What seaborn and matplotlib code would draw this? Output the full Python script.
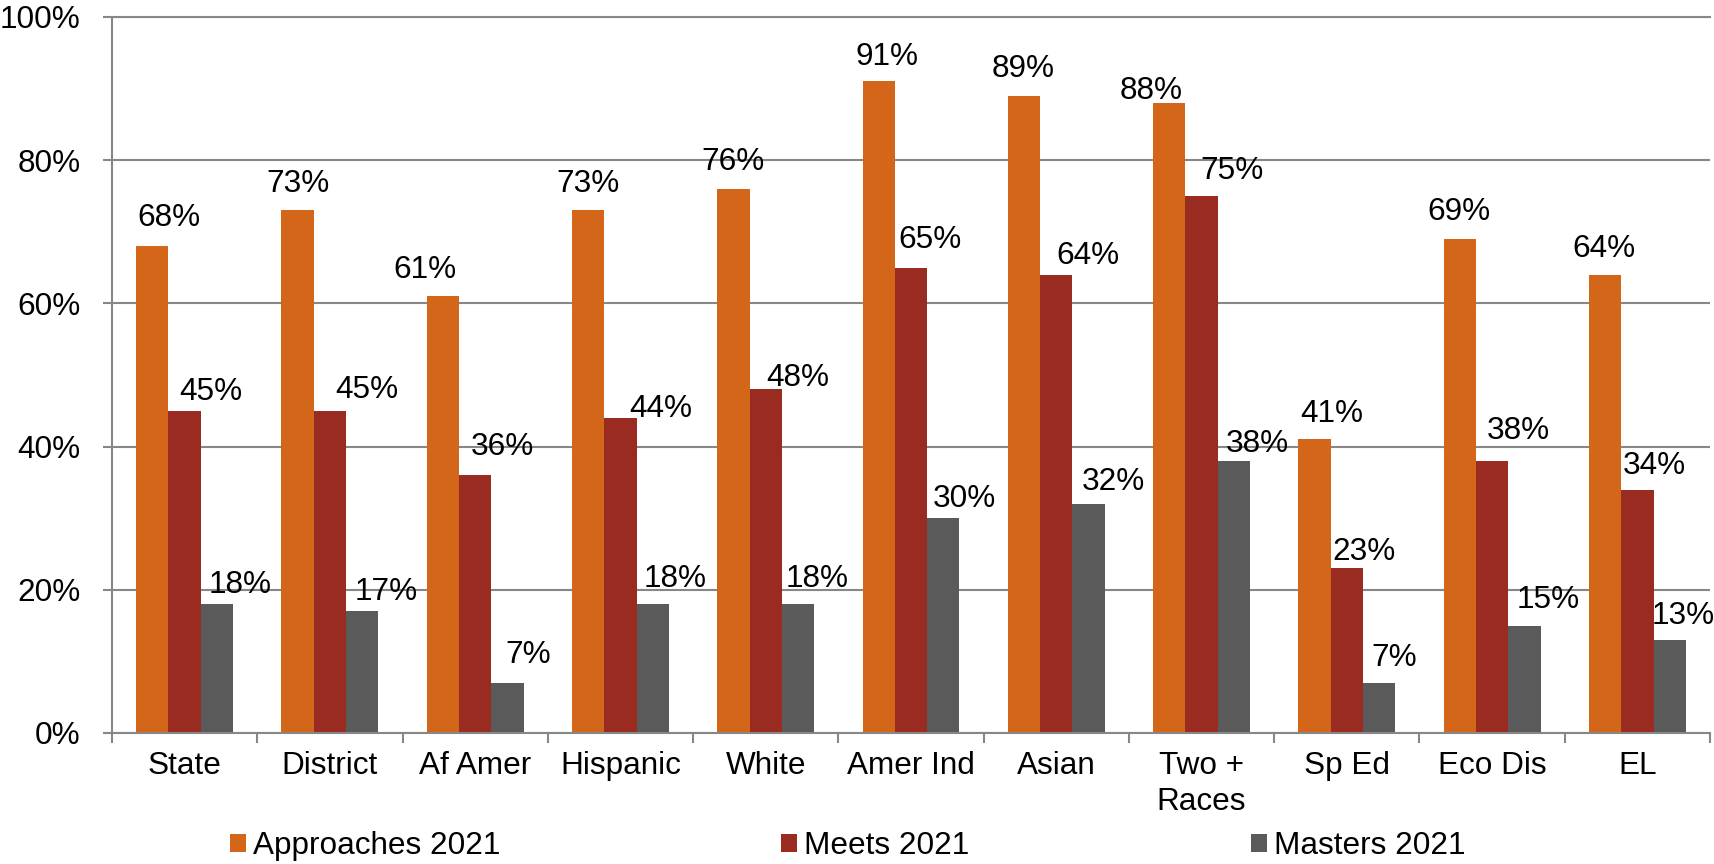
import matplotlib
matplotlib.use("Agg")
import matplotlib.pyplot as plt
import seaborn as sns
import pandas as pd
from matplotlib.patches import Patch
from matplotlib.ticker import FixedLocator, FuncFormatter

# ---------------- data ----------------
categories = ["State", "District", "Af Amer", "Hispanic", "White", "Amer Ind",
              "Asian", "Two +\nRaces", "Sp Ed", "Eco Dis", "EL"]
series = ["Approaches 2021", "Meets 2021", "Masters 2021"]
approaches = [68, 73, 61, 73, 76, 91, 89, 88, 41, 69, 64]
meets = [45, 45, 36, 44, 48, 65, 64, 75, 23, 38, 34]
masters = [18, 17, 7, 18, 18, 30, 32, 38, 7, 15, 13]
y_ticks = [0, 20, 40, 60, 80, 100]

# ---------------- style ----------------
colors = ["#D4661A", "#9A2B20", "#5A5A5A"]
grid_color = "#878787"
# per-label horizontal offsets and gap above bar top (pixels)
label_dx = [
    [17, 0, -18, 0, 0, 8, -1, -18, 17, -1, -1],
    [26, 37, 27, 40, 32, 19, 32, 30, 17, 26, 17],
    [23, 24, 21, 22, 19, 21, 25, 23, 15, 24, 14],
]
label_gap = [
    [20, 18, 18, 18, 19, 16, 19, 4, 17, 19, 18],
    [11, 13, 20, 1, 3, 20, 11, 17, 8, 22, 16],
    [11, 11, 20, 17, 17, 11, 14, 9, 17, 18, 16],
]

plt.rcParams["font.family"] = ["Liberation Sans", "DejaVu Sans"]
FS = 22.7
PX = 0.72  # points per pixel at dpi 100
EM = FS / PX  # font size in pixels

values = [approaches, meets, masters]
rows = []
for s, vals in zip(series, values):
    for c, v in zip(categories, vals):
        rows.append({"cat": c, "val": v, "series": s})
df = pd.DataFrame(rows)

fig = plt.figure(figsize=(17.15, 8.64), dpi=100)
ax = fig.add_axes([112 / 1715, 1 - 733 / 864, (1710 - 112) / 1715, (733 - 17) / 864])

sns.barplot(data=df, x="cat", y="val", hue="series", order=categories,
            hue_order=series, palette=colors, width=0.667, gap=0,
            errorbar=None, legend=False, linewidth=0, saturation=1, ax=ax)

# data labels
for si, cont in enumerate(ax.containers):
    for j, bar in enumerate(cont):
        h = bar.get_height()
        cx = bar.get_x() + bar.get_width() / 2
        ax.annotate(f"{int(round(h))}%", xy=(cx, h),
                    xytext=(label_dx[si][j] * PX, label_gap[si][j] * PX),
                    textcoords="offset points", ha="center", va="baseline",
                    fontsize=FS, color="black", annotation_clip=False)

ax.set_ylim(0, 100)
ax.set_xlim(-0.5, len(categories) - 0.5)
ax.yaxis.set_major_locator(FixedLocator(y_ticks))
ax.yaxis.set_major_formatter(FuncFormatter(lambda v, p: f"{int(v)}%"))
ax.yaxis.grid(True, color=grid_color, linewidth=1.5)
ax.set_axisbelow(True)
ax.set_xlabel("")
ax.set_ylabel("")

for side in ["left", "bottom", "top"]:
    ax.spines[side].set_color(grid_color)
    ax.spines[side].set_linewidth(1.5)
ax.spines["right"].set_visible(False)

ax.tick_params(axis="y", length=6.5, width=1.5, color=grid_color, pad=16,
               labelsize=FS, labelcolor="black")
ax.tick_params(axis="x", which="major", length=0, pad=13, labelsize=FS,
               labelcolor="black")
ax.xaxis.set_minor_locator(FixedLocator([i - 0.5 for i in range(len(categories) + 1)]))
ax.tick_params(axis="x", which="minor", length=7.2, width=1.5, color=grid_color)
for lab in ax.get_xticklabels():
    lab.set_linespacing(1.24)

handles = [Patch(facecolor=c, edgecolor="none") for c in colors]
fig.legend(handles, series, loc="center left",
           bbox_to_anchor=(230 / 1715, 1 - 846 / 864), ncol=3, frameon=False,
           fontsize=FS, borderpad=0, borderaxespad=0,
           handlelength=16 / EM, handleheight=16 / EM,
           handletextpad=7 / EM, columnspacing=281 / EM)

fig.savefig("out.png", dpi=100)
